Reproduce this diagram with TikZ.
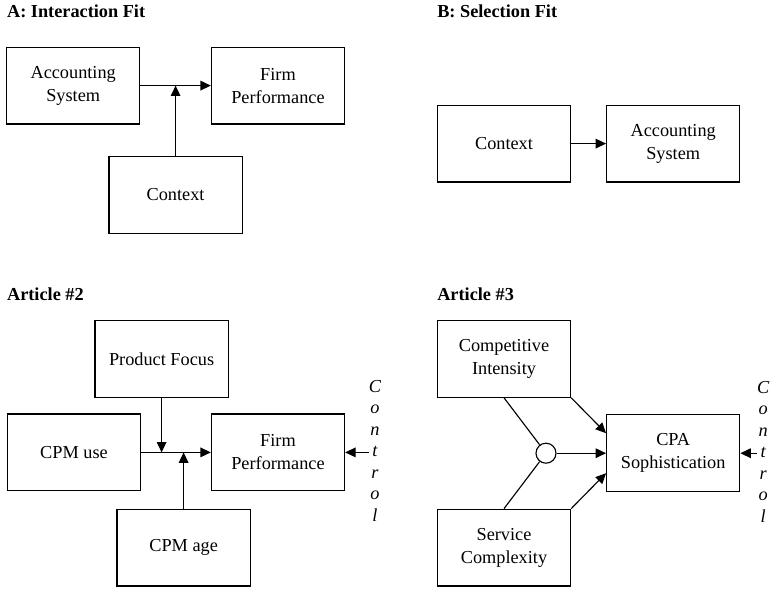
\documentclass[tikz,border=0pt]{standalone}
\usepackage{fontspec}
\setmainfont{Liberation Serif}
\usetikzlibrary{arrows.meta, calc}

\begin{document}
\begin{tikzpicture}[
  >={Triangle[length=2.6mm, width=2.4mm]},
  box/.style={draw, line width=0.8pt, minimum width=3.33cm, minimum height=1.92cm, align=center, inner sep=0pt, font=\fontsize{13}{16.4}\selectfont},
  link/.style={line width=0.8pt},
  heading/.style={anchor=base west, inner sep=0pt, font=\fontsize{13}{16}\selectfont\bfseries},
  ctrl/.style={align=center, inner sep=0pt, font=\fontsize{13}{15.3}\selectfont\itshape}
]
  \useasboundingbox (0,0) rectangle (19.525,-14.7);

  % A: Interaction Fit
  \node[heading] (titleA) at (0.17, -0.45) {A: Interaction Fit};
  \node[box] (accA) at (1.83, -2.14) {Accounting\\System};
  \node[box] (firmA) at (6.95, -2.14) {Firm\\Performance};
  \node[box] (ctxA) at (4.39, -4.87) {Context};
  \draw[link, ->] (accA) -- (firmA);
  \draw[link, ->] (ctxA) -- (ctxA |- accA.east);

  % B: Selection Fit
  \node[heading] (titleB) at (10.925, -0.45) {B: Selection Fit};
  \node[box] (ctxB) at (12.6, -3.59) {Context};
  \node[box] (accB) at (16.83, -3.59) {Accounting\\System};
  \draw[link, ->] (ctxB) -- (accB);

  % Article #2
  \node[heading] (titleC) at (0.17, -7.52) {Article \#2};
  \node[box] (focus) at (4.04, -8.97) {Product Focus};
  \node[box] (cpmUse) at (1.85, -11.31) {CPM use};
  \node[box] (firmC) at (6.95, -11.31) {Firm\\Performance};
  \node[box] (cpmAge) at (4.59, -13.69) {CPM age};
  \node[ctrl] (ctrlC) at (9.375, -11.27) {C\\o\\n\\t\\r\\o\\l};
  \draw[link, ->] (cpmUse) -- (firmC);
  \draw[link, ->] (focus) -- (focus |- cpmUse.east);
  \draw[link, ->] (cpmAge) -- (cpmAge |- cpmUse.east);
  \draw[link, ->] (ctrlC.west |- firmC.east) -- (firmC.east);

  % Article #3
  \node[heading] (titleD) at (10.925, -7.52) {Article \#3};
  \node[box] (rivalry) at (12.6, -8.97) {Competitive\\Intensity};
  \node[box] (cpa) at (16.83, -11.33) {CPA\\Sophistication};
  \node[box] (service) at (12.6, -13.69) {Service\\Complexity};
  \node[draw, circle, line width=0.8pt, minimum size=0.5cm, inner sep=0pt] (join) at (13.65, -11.33) {};
  \node[ctrl] (ctrlD) at (19.08, -11.29) {C\\o\\n\\t\\r\\o\\l};
  \coordinate (cpaHigh) at ($(cpa.west)+(0,0.5)$);
  \coordinate (cpaLow) at ($(cpa.west)+(0,-0.5)$);
  \draw[link] (rivalry.south) -- (join);
  \draw[link] (service.north) -- (join);
  \draw[link, ->] (join) -- (cpa);
  \draw[link, ->] (rivalry.south east) -- (cpaHigh);
  \draw[link, ->] (service.north east) -- (cpaLow);
  \draw[link, ->] (ctrlD.west |- cpa.east) -- (cpa.east);
\end{tikzpicture}
\end{document}
